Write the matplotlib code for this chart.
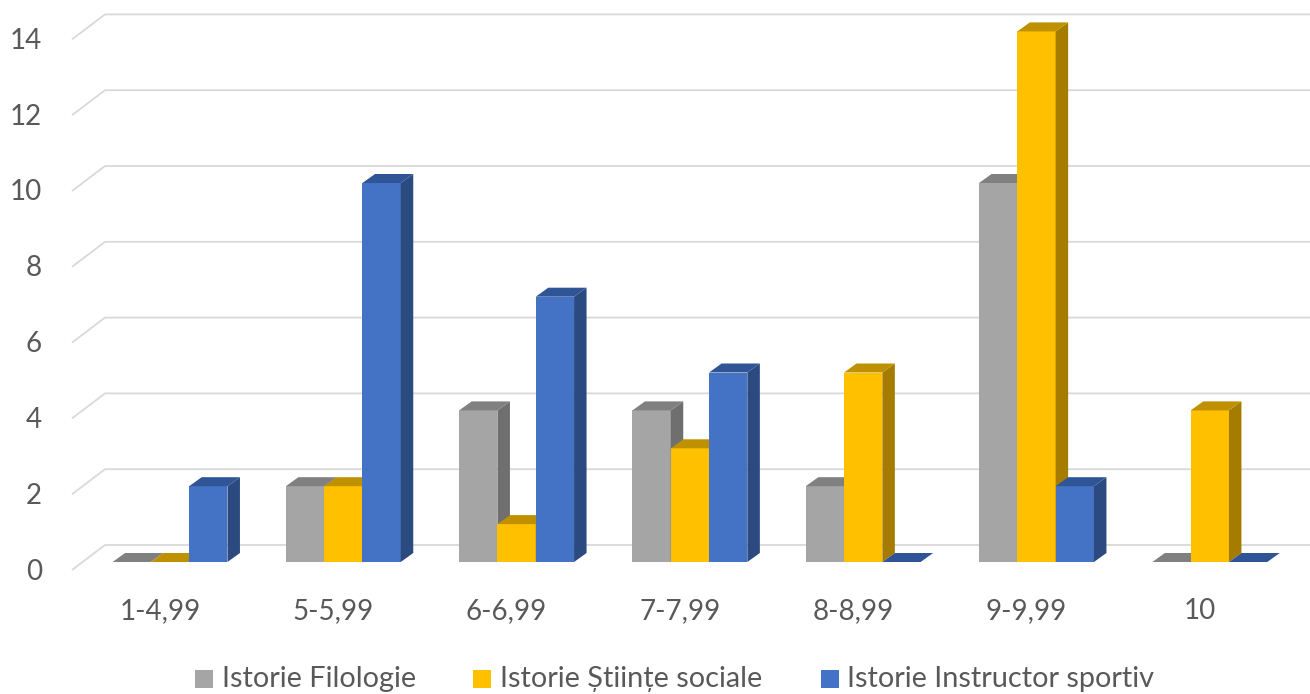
import matplotlib
matplotlib.use("Agg")
import matplotlib.pyplot as plt
from matplotlib.patches import Polygon, Rectangle

# ---------------- data ----------------
categories = ["1-4,99", "5-5,99", "6-6,99", "7-7,99", "8-8,99", "9-9,99", "10"]
series_names = ["Istorie Filologie", "Istorie Științe sociale", "Istorie Instructor sportiv"]
filologie = [0, 2, 4, 4, 2, 10, 0]
stiinte_sociale = [0, 2, 1, 3, 5, 14, 4]
instructor_sportiv = [2, 10, 7, 5, 0, 2, 0]
y_ticks = [0, 2, 4, 6, 8, 10, 12, 14]

series_values = [filologie, stiinte_sociale, instructor_sportiv]
front_colors = ["#A5A5A5", "#FFC000", "#4472C4"]
top_colors = ["#808080", "#BF9000", "#2F5597"]
side_colors = ["#6F6F6F", "#A67C00", "#2A4A80"]

# ---------------- layout ----------------
W, H = 1310, 694
PX_X = 173.3   # pixels per category
PX_Y = 37.9    # pixels per unit value
X0 = 170       # pixel x of first cluster centre
Y0 = 570       # pixel y (from top) of front-plane zero

fig = plt.figure(figsize=(W / 100, H / 100), dpi=100)
ax = fig.add_axes([0, 0, 1, 1])
ax.set_xlim((0 - X0) / PX_X, (W - X0) / PX_X)
ax.set_ylim((Y0 - H) / PX_Y, Y0 / PX_Y)
ax.axis("off")

text_color = "#595959"
font = "Lato"

# depth offsets (data units)
back_dx, back_dy = 33 / PX_X, 25 / PX_Y      # wall depth
grid_x_front = (72 - X0) / PX_X
grid_x_back = grid_x_front + back_dx
grid_x_end = (W - X0) / PX_X
bar_base = 8 / PX_Y                           # bars sit slightly behind front plane
bar_w = 38.3 / PX_X
ddx, ddy = 12.5 / PX_X, 9 / PX_Y              # bar depth

# gridlines (floor edge diagonal + back wall line)
for v in y_ticks:
    ax.plot([grid_x_front, grid_x_back, grid_x_end],
            [v, v + back_dy, v + back_dy],
            color="#D9D9D9", lw=1.3, zorder=1, solid_capstyle="butt")
    ax.text((42 - X0) / PX_X, v - 1.5 / PX_Y, str(v), ha="right", va="center",
            fontsize=20, color=text_color, family=font)

# bars
z = 2
for i, cat in enumerate(categories):
    for j, vals in enumerate(series_values):
        v = vals[i]
        L = i - 1.5 * bar_w + j * bar_w
        R = L + bar_w
        b = bar_base
        t = bar_base + v
        if v > 0:
            ax.add_patch(Polygon([(L, b), (R, b), (R, t), (L, t)], closed=True,
                                 facecolor=front_colors[j], edgecolor="none", zorder=z))
            ax.add_patch(Polygon([(R, b), (R + ddx, b + ddy), (R + ddx, t + ddy), (R, t)],
                                 closed=True, facecolor=side_colors[j], edgecolor="none", zorder=z))
        ax.add_patch(Polygon([(L, t), (R, t), (R + ddx, t + ddy), (L + ddx, t + ddy)],
                             closed=True, facecolor=top_colors[j], edgecolor="none", zorder=z))
        z += 1
    ax.text(i - 10 / PX_X, (Y0 - 611) / PX_Y, cat, ha="center", va="center",
            fontsize=20, color=text_color, family=font)

# legend
leg_sq_x = [195, 473, 821]
leg_tx_x = [222, 500, 847]
for j, name in enumerate(series_names):
    fig.patches.append(Rectangle((leg_sq_x[j] / W, 1 - 688 / H), 18 / W, 18 / H,
                                 transform=fig.transFigure, facecolor=front_colors[j],
                                 edgecolor="none"))
    fig.text(leg_tx_x[j] / W, 1 - 687 / H, name, ha="left", va="baseline",
             fontsize=20.8, color=text_color, family=font)

fig.savefig("out.png", dpi=100)
